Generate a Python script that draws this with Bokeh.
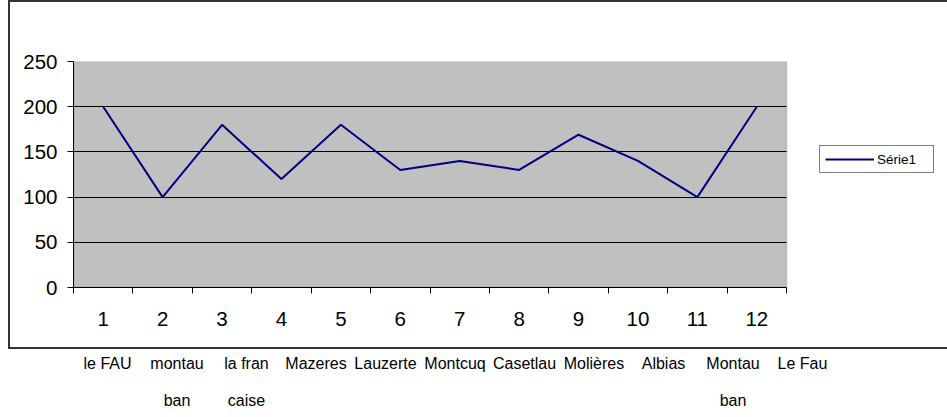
from bokeh.plotting import figure
from bokeh.layouts import column
from bokeh.models import (Range1d, FixedTicker, Legend, LegendItem, InlineStyleSheet,
                          BoxAnnotation)
from bokeh.core.properties import value
from bokeh.embed import file_html
from bokeh.resources import INLINE

# ---- data ----
categories = [str(i) for i in range(1, 13)]
serie1 = [200, 100, 180, 120, 180, 130, 140, 130, 169, 140, 100, 200]
y_ticks = [0, 50, 100, 150, 200, 250]
places_row1 = ["le FAU", "montau", "la fran", "Mazeres", "Lauzerte", "Montcuq",
               "Casetlau", "Molières", "Albias", "Montau", "Le Fau"]
places_row2 = ["", "ban", "caise", "", "", "", "", "", "", "ban", ""]

FONT = "Liberation Sans"
W = 947
H1 = 349          # chart block (with its outer border)
H2 = 417 - H1     # spreadsheet cells below

# layout (pixels)
PLOT_L, PLOT_R, PLOT_T, PLOT_B = 73, 786, 61, 287
LEG_L, LEG_BOTTOM = 819, 173

x_pos = list(range(1, len(categories) + 1))
x_lo, x_hi = 0.5, len(categories) + 0.5
px_per_cat = (PLOT_R - PLOT_L) / (x_hi - x_lo)

box_css = InlineStyleSheet(css="""
:host::after {
  content: "";
  position: absolute;
  left: 8px; top: 0px;
  width: 960px; height: 349px;
  border: 2px solid #333333;
  border-right: none;
  box-sizing: border-box;
  pointer-events: none;
}
""")

# frame runs to the right edge so that the legend can sit inside it
p = figure(width=W, height=H1, output_backend="svg", toolbar_location=None,
           x_range=Range1d(x_lo, x_hi + (W - PLOT_R) / px_per_cat),
           y_range=Range1d(y_ticks[0], y_ticks[-1]),
           min_border_left=PLOT_L, min_border_right=0,
           min_border_top=PLOT_T, min_border_bottom=H1 - PLOT_B,
           stylesheets=[box_css])
p.background_fill_color = "white"
p.border_fill_color = "white"
p.outline_line_color = None

# grey plot area
area = BoxAnnotation(left=x_lo, right=x_hi, bottom=y_ticks[0], top=y_ticks[-1],
                     fill_color="#C0C0C0", fill_alpha=1,
                     line_color="#808080", line_width=2, level="image")
p.add_layout(area)

# x axis: labels at category centres, ticks at category boundaries
xa = p.xaxis[0]
xa.bounds = (x_lo, x_hi)
xa.ticker = FixedTicker(ticks=x_pos,
                        minor_ticks=[x - 0.5 for x in x_pos] + [x_pos[-1] + 0.5])
xa.major_label_overrides = {x: c for x, c in zip(x_pos, categories)}
xa.major_tick_out = 0
xa.major_tick_in = 0
xa.minor_tick_out = 6
xa.minor_tick_in = 0
xa.minor_tick_line_color = "black"
xa.axis_line_color = "black"
xa.major_label_text_font = FONT
xa.major_label_text_font_size = "20.5px"
xa.major_label_text_color = "black"
xa.major_label_standoff = 18

ya = p.yaxis[0]
ya.ticker = FixedTicker(ticks=y_ticks)
ya.minor_tick_out = 0
ya.minor_tick_in = 0
ya.major_tick_out = 6
ya.major_tick_in = 0
ya.major_tick_line_color = "black"
ya.axis_line_color = "black"
ya.major_label_text_font = FONT
ya.major_label_text_font_size = "20.5px"
ya.major_label_text_color = "black"
ya.major_label_standoff = 10

p.xgrid.visible = False
p.ygrid.ticker = FixedTicker(ticks=y_ticks[1:-1])
p.ygrid.cross_bounds = (x_lo, x_hi)
p.ygrid.grid_line_color = "black"
p.ygrid.grid_line_width = 1

r = p.line(x=x_pos, y=serie1, line_color="#000080", line_width=2)

legend = Legend(items=[LegendItem(label="Série1", renderers=[r])],
                location=(LEG_L - PLOT_L, PLOT_B - LEG_BOTTOM), orientation="vertical",
                border_line_color="black", border_line_width=1,
                background_fill_color="white", background_fill_alpha=1,
                label_text_font=FONT, label_text_font_size="13.5px",
                label_text_color="black",
                glyph_width=49, glyph_height=16, label_standoff=3,
                label_width=51, label_height=16,
                padding=5, margin=0, spacing=0)
p.add_layout(legend, "center")

# ---- spreadsheet cells with place names below the chart ----
cell_w = 69.5     # px per cell
first_c = 107     # px centre of first cell
row_h = 37        # px per row
first_base = 14   # px from top of the block to first baseline

n = len(places_row1)
q = figure(width=W, height=H2, output_backend="svg", toolbar_location=None,
           x_range=Range1d(-(first_c - PLOT_L) / cell_w, (W - first_c) / cell_w),
           y_range=Range1d(1 + (H2 - first_base - row_h) / row_h, -first_base / row_h),
           min_border_left=PLOT_L, min_border_right=0,
           min_border_top=0, min_border_bottom=0)
q.axis.visible = False
q.grid.visible = False
q.outline_line_color = None
q.background_fill_color = "white"
q.border_fill_color = "white"
q.text(x=list(range(n)) * 2, y=[0] * n + [1] * n, text=places_row1 + places_row2,
       text_font=value(FONT), text_font_size="16px", text_color="black",
       text_align="center", text_baseline="alphabetic")

layout = column(p, q, spacing=0)
open("out.html", "w").write(file_html(layout, INLINE))
